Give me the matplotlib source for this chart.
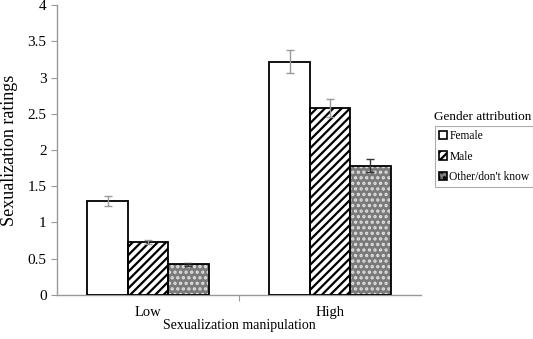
import matplotlib
matplotlib.use('Agg')
import matplotlib.pyplot as plt
import numpy as np
from matplotlib.patches import Patch

plt.rcParams['font.family'] = ['Liberation Serif', 'DejaVu Serif']
plt.rcParams['hatch.linewidth'] = 1.6

groups = ['Low', 'High']
series = ['Female', 'Male', "Other/don't know"]
means = {
    'Female': [1.30, 3.22],
    'Male': [0.73, 2.58],
    "Other/don't know": [0.42, 1.78],
}
errs = {
    'Female': [0.07, 0.16],
    'Male': [0.03, 0.12],
    "Other/don't know": [0.02, 0.09],
}

fig = plt.figure(figsize=(5.33, 3.39), dpi=100)
ax = fig.add_axes([0.107, 0.130, 0.683, 0.855])

x = np.arange(len(groups))
w = 0.222
faces = ['white', 'white', '#7a7a7a']
hatches = [None, '////', '...']
hcols = ['black', 'black', '#e0e0e0']
ecols = ['#999999', '#999999', '#333333']

for i, s in enumerate(series):
    pos = x + (i - 1) * w
    ax.bar(pos, means[s], w, color=faces[i], hatch=hatches[i],
           edgecolor=hcols[i], linewidth=0, zorder=2)
    ax.bar(pos, means[s], w, fill=False, edgecolor='black', linewidth=1.3, zorder=3)
    ax.errorbar(pos, means[s], yerr=errs[s], fmt='none', ecolor=ecols[i],
                elinewidth=1, capsize=3, capthick=1, zorder=4)

ax.set_xlim(-0.5, 1.5)
ax.set_ylim(0, 4)
ax.set_yticks(np.arange(0, 4.01, 0.5))
ax.set_yticklabels(['0', '0.5', '1', '1.5', '2', '2.5', '3', '3.5', '4'])
ax.set_xticks([0.5])
ax.set_xticklabels([''])
for i, g in enumerate(groups):
    ax.text(x[i], -0.15, g, ha='center', va='top', fontsize=10.5)
ax.text(0.5, -0.335, 'Sexualization manipulation', ha='center', va='top', fontsize=10)
ax.set_ylabel('Sexualization ratings', fontsize=13, labelpad=7)
ax.tick_params(axis='y', direction='out', length=4, color='#999999', labelsize=11)
ax.tick_params(axis='x', direction='out', length=4, color='#999999')
for sp in ['top', 'right']:
    ax.spines[sp].set_visible(False)
for sp in ['left', 'bottom']:
    ax.spines[sp].set_color('#999999')
    ax.spines[sp].set_linewidth(1)

handles = []
for i, s in enumerate(series):
    handles.append(Patch(facecolor=faces[i], hatch=hatches[i], edgecolor='black',
                         linewidth=1.2, label=s))
fig.text(0.905, 0.655, 'Gender attribution', ha='center', va='center', fontsize=9.5)
leg = fig.legend(handles=handles, loc='upper left', bbox_to_anchor=(0.816, 0.627),
                 fontsize=8.3, frameon=True, fancybox=False, handlelength=0.7,
                 handleheight=0.7, handletextpad=0.2, labelspacing=0.7,
                 borderpad=0.35, borderaxespad=0)
leg.get_frame().set_edgecolor('#999999')
leg.get_frame().set_linewidth(0.8)

fig.savefig('out.png', dpi=100)
